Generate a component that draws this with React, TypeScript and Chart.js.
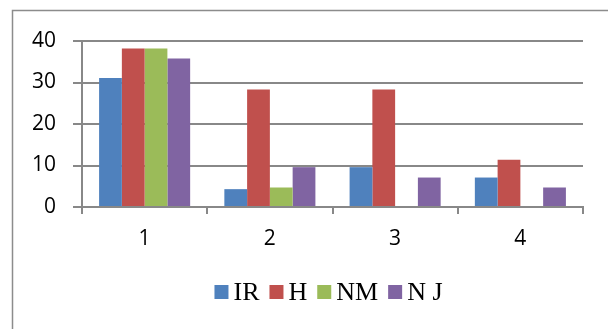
import React, { useEffect, useRef } from "react";
import { Chart, registerables } from "chart.js";

Chart.register(...registerables);

const categories = ["1", "2", "3", "4"];
const seriesNames = ["IR", "H", "NM", "N J"];
const irValues = [31.1, 4.3, 9.6, 7.1];
const hValues = [38.2, 28.3, 28.3, 11.4];
const nmValues = [38.2, 4.7, 0, 0];
const njValues = [35.8, 9.6, 7.1, 4.7];
const yTicks = [0, 10, 20, 30, 40];

const colors = ["#4F81BD", "#C0504D", "#9BBB59", "#8064A2"];
const gridColor = "#888888";

const borderPlugin = {
  id: "outerBorder",
  beforeDraw(chart: any) {
    const ctx = chart.ctx;
    ctx.save();
    ctx.fillStyle = "#ffffff";
    ctx.fillRect(0, 0, chart.width, chart.height);
    ctx.strokeStyle = "#8c8c8c";
    ctx.lineWidth = 1.5;
    ctx.beginPath();
    ctx.moveTo(12.5, chart.height + 2);
    ctx.lineTo(12.5, 10.5);
    ctx.lineTo(chart.width + 2, 10.5);
    ctx.stroke();
    ctx.restore();
  },
};

const legendPlugin = {
  id: "customLegend",
  afterDraw(chart: any) {
    const ctx = chart.ctx;
    const box = 14;
    const gap = 5;
    const spacing = 10;
    ctx.save();
    ctx.font = "26px 'Liberation Serif'";
    const items = chart.data.datasets.map((d: any) => ({
      label: d.label,
      color: d.backgroundColor,
      w: ctx.measureText(d.label).width,
    }));
    const total =
      items.reduce((s: number, it: any) => s + box + gap + it.w, 0) +
      spacing * (items.length - 1);
    const center = (chart.chartArea.left + chart.chartArea.right) / 2 - 4;
    let x = center - total / 2;
    const boxTop = 285;
    const baseline = 299.5;
    ctx.textBaseline = "alphabetic";
    ctx.textAlign = "left";
    items.forEach((it: any) => {
      ctx.fillStyle = it.color;
      ctx.fillRect(x, boxTop, box, box);
      ctx.fillStyle = "#000000";
      ctx.fillText(it.label, x + box + gap, baseline);
      x += box + gap + it.w + spacing;
    });
    ctx.restore();
  },
};

export default function App() {
  const ref = useRef<HTMLCanvasElement | null>(null);

  useEffect(() => {
    document.body.style.margin = "0";
    document.body.style.overflow = "hidden";
    const canvas = ref.current;
    if (!canvas) return;
    const allSeries = [irValues, hValues, nmValues, njValues];
    const chart = new Chart(canvas, {
      type: "bar",
      data: {
        labels: categories,
        datasets: allSeries.map((vals, i) => ({
          label: seriesNames[i],
          data: vals,
          backgroundColor: colors[i],
          borderWidth: 0,
          categoryPercentage: 0.727,
          barPercentage: 1,
        })),
      },
      plugins: [borderPlugin, legendPlugin],
      options: {
        responsive: false,
        animation: false,
        devicePixelRatio: 1,
        layout: { padding: { left: 0, top: 41, right: 25, bottom: 0 } },
        plugins: {
          legend: { display: false },
          tooltip: { enabled: false },
          title: { display: false },
        },
        scales: {
          x: {
            offset: true,
            grid: {
              offset: true,
              drawOnChartArea: false,
              drawTicks: true,
              tickLength: 7,
              color: gridColor,
              lineWidth: 2,
            },
            border: { display: true, color: gridColor, width: 2 },
            ticks: {
              color: "#000000",
              font: { family: "'Open Sans'", size: 21 },
              padding: 12,
            },
            afterFit(scale: any) {
              scale.height = 122;
            },
          },
          y: {
            min: 0,
            max: 40,
            afterBuildTicks(scale: any) {
              scale.ticks = yTicks.map((v) => ({ value: v }));
            },
            grid: {
              drawTicks: true,
              tickLength: 9,
              color: gridColor,
              lineWidth: 2,
            },
            border: { display: true, color: gridColor, width: 2 },
            ticks: {
              color: "#000000",
              font: { family: "'Open Sans'", size: 21 },
              padding: 17,
            },
            afterFit(scale: any) {
              scale.width = 82;
            },
          },
        },
      },
    });
    return () => chart.destroy();
  }, []);

  return <canvas ref={ref} width={608} height={329} style={{ display: "block" }} />;
}
